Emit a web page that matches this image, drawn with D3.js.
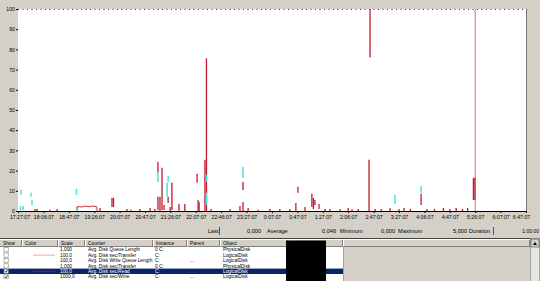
<!DOCTYPE html>
<html><head><meta charset="utf-8">
<script src="https://cdn.jsdelivr.net/npm/d3@7"></script>
<style>
html,body{margin:0;padding:0;background:#d4d0c8;overflow:hidden}
svg{display:block;font-family:"Liberation Sans",Arial,sans-serif}
</style></head><body>
<svg id="c" width="540" height="281"></svg>
<script>
// ---- data ----
const timeLabels = ["17:27:07","18:06:07","18:47:07","19:26:07","20:07:07","20:47:07","21:26:07","22:07:07","22:46:07","23:27:07","0:07:07","0:47:07","1:27:07","2:06:07","2:47:07","3:27:07","4:06:07","4:47:07","5:26:07","6:07:07","6:47:07"];
const timeTicks = [0,10,20,30,40,50,60,70,80,90,100,110,120,130,140,150,160,170,180,190,200];
const yTicks = [0,10,20,30,40,50,60,70,80,90,100];

const redT  = [6.7,7.5,12.6,15.4,32.3,37.0,37.6,42.9,44.5,48.0,52.0,53.9,55.1,55.1,55.9,56.7,57.5,59.1,60.6,59.9,63.4,65.7,70.5,70.9,71.3,73.6,74.2,76.0,83.5,87.4,88.6,88.6,90.6,94.5,99.2,103.1,107,109.4,110.2,113.0,115.7,116.3,116.9,118.5,120.9,122.8,126.8,130,131.5,134,138.2,138.6,140.6,143,146.5,150,152,154.5,158.7,161,164,167.5,170,172.5,175,177,179.3,179.9];
const redLo = [0,0,0,0,0,2,2,0,0,0,0,0,19,0.5,0,0.5,0.5,4,0.5,0,0,0,14,0,0,0,0,0,0,0,10.4,0,0,0,0,0,0,0,9,0,2,1,3,1,0,0,0,0,0,0,0,76,0,0,0,0,0,0,3,0,0,0,0,0,0,0,5.5,5.5];
const redHi = [1,1,0.6,1,1.5,6.5,6.5,1,0.6,1,1.5,1,24.4,7,7,21.4,3,7,14,2,3.5,3.5,18.4,5.5,4.5,25.4,75.6,1,1,2.5,14.4,4.5,1.5,0.6,1,1,1,4,12,2,8.5,6.5,5.5,3.5,1,1,1,1.5,0.8,1,25.4,100,1,1,1.5,1,1.5,1,8.5,1,1,1.5,1,1.5,1,1.5,16.4,16.4];

const cyanT  = [1.0,1.2,2.0,5.1,5.5,23.0,23.0,55.1,58.7,59.1,74.2,74.2,88.6,148.4,158.7];
const cyanLo = [0.5,8,0.5,7,3,8,1,14.4,7,14.4,14.4,3,16.4,3.5,9];
const cyanHi = [2.5,10.5,2.5,9,5.5,11,2,18.9,14,17.4,18,9,21.9,8,12.4];

const traceT = [23.2,23.4,25,26.5,28,29.5,31,31.2];
const traceV = [0,2.2,2.0,2.4,2.1,2.5,2.1,0];
const timeBarT = 180;

const statLabels = ["Last","Average","Minimum","Maximum","Duration"];
const statValues = ["0,000","0,046","0,000","5,000","1:00:00"];

const headers = ["Show","Color","Scale","Counter","Instance","Parent","Object","Computer",""];
const showFlags = [false,false,false,false,true,true];
const legendColors = [null,"#e9a6b0",null,null,"#9e1232",null];
const scaleLabels = ["1,000","100,0","100,0","1,000","100,0","1000,0"];
const counterNames = ["Avg. Disk Queue Length","Avg. Disk sec/Transfer","Avg. Disk Write Queue Length","Avg. Disk sec/Transfer","Avg. Disk sec/Read","Avg. Disk sec/Write"];
const instances = ["0 C:","C:","C:","0 C:","C:","C:"];
const parents = ["","","...","","","..."];
const objects = ["PhysicalDisk","LogicalDisk","LogicalDisk","PhysicalDisk","LogicalDisk","LogicalDisk"];
const selectedRow = 4;

// ---- drawing ----
const svg = d3.select("#c");
const x = d3.scaleLinear().domain([0,200]).range([18,526]);
const y = d3.scaleLinear().domain([0,100]).range([211,9]);

svg.append("rect").attr("x",0).attr("y",0).attr("width",540).attr("height",281).attr("fill","#d4d0c8");
svg.append("rect").attr("x",x(0)).attr("y",y(100)).attr("width",x(200)-x(0)).attr("height",y(0)-y(100)).attr("fill","#fff");

// top dotted line & right border
svg.append("line").attr("x1",x(0)).attr("x2",x(200)).attr("y1",y(100)+0.5).attr("y2",y(100)+0.5)
  .attr("stroke","#333").attr("stroke-dasharray","1,3.5");
svg.append("line").attr("x1",x(200)+0.5).attr("x2",x(200)+0.5).attr("y1",y(100)).attr("y2",y(0))
  .attr("stroke","#777");

// y axis
const ya = svg.append("g").attr("transform",`translate(${x(0)},0)`)
  .call(d3.axisLeft(y).tickValues(yTicks).tickSize(2).tickPadding(1));
ya.select(".domain").remove();
ya.selectAll("text").attr("font-size",5.2).attr("fill","#000").attr("font-family","Liberation Sans, Arial");
ya.selectAll("line").attr("stroke","#000");

// series ranges (red)
const idxR = d3.range(redT.length);
svg.append("g").selectAll("line").data(idxR).join("line")
  .attr("x1",i=>x(redT[i])).attr("x2",i=>x(redT[i]))
  .attr("y1",i=>y(redLo[i])).attr("y2",i=>y(redHi[i]))
  .attr("stroke","#bf1a2f").attr("stroke-width",1.3);

svg.append("path").datum(d3.range(traceT.length))
  .attr("d",d3.line().x(i=>x(traceT[i])).y(i=>y(traceV[i])))
  .attr("fill","none").attr("stroke","#bf1a2f").attr("stroke-width",0.9);

// cyan
const idxC = d3.range(cyanT.length);
svg.append("g").selectAll("line").data(idxC).join("line")
  .attr("x1",i=>x(cyanT[i])).attr("x2",i=>x(cyanT[i]))
  .attr("y1",i=>y(cyanLo[i])).attr("y2",i=>y(cyanHi[i]))
  .attr("stroke","#47e2e2").attr("stroke-width",1.5);

// time bar
svg.append("line").attr("x1",x(timeBarT)).attr("x2",x(timeBarT)).attr("y1",y(0)).attr("y2",y(100))
  .attr("stroke","#c8303f").attr("stroke-width",0.7);

// x axis
const xa = svg.append("g").attr("transform",`translate(0,${y(0)})`)
  .call(d3.axisBottom(x).tickValues(timeTicks).tickFormat((d,i)=>timeLabels[i]).tickSize(2).tickPadding(2.5));
xa.select(".domain").attr("stroke","#000").attr("stroke-width",1);
xa.selectAll("line").attr("stroke","#000");
xa.selectAll("text").attr("font-size",5.2).attr("fill","#000").attr("font-family","Liberation Sans, Arial")
  .attr("dx",(d,i)=> i===timeTicks.length-1 ? -5 : (i===0 ? 1.5 : 0));

// stats bar
const statLabelX = [208,267,340,398,469];
const statValueEnd = [261,336,395,467,539];
const sg = svg.append("g").attr("font-size",5.6).attr("fill","#000");
statLabels.forEach((l,i)=>{
  sg.append("text").attr("x",statLabelX[i]).attr("y",233).text(l);
  sg.append("text").attr("x",statValueEnd[i]).attr("y",233).attr("text-anchor","end")
    .attr("font-size", i===4 ? 5 : 5.6).text(statValues[i]);
});
svg.append("line").attr("x1",219.5).attr("x2",219.5).attr("y1",227).attr("y2",235).attr("stroke","#555");
svg.append("line").attr("x1",493.5).attr("x2",493.5).attr("y1",227).attr("y2",235).attr("stroke","#555");

// table
const colX = [0,22,58,85,153,187,220,288,343,530];
const rowTop = 247, rowH = 5.4;
svg.append("line").attr("x1",0).attr("x2",530).attr("y1",238.5).attr("y2",238.5).attr("stroke","#404040");
svg.append("line").attr("x1",0).attr("x2",530).attr("y1",239.5).attr("y2",239.5).attr("stroke","#fff");
svg.append("line").attr("x1",0).attr("x2",530).attr("y1",246.5).attr("y2",246.5).attr("stroke","#808080");
const hg = svg.append("g").attr("font-size",4.8).attr("fill","#000");
headers.forEach((h,i)=>{
  hg.append("text").attr("x",colX[i]+3).attr("y",245).text(h);
  svg.append("line").attr("x1",colX[i+1]-0.5).attr("x2",colX[i+1]-0.5).attr("y1",240).attr("y2",246.5).attr("stroke","#808080");
  svg.append("line").attr("x1",colX[i+1]+0.5).attr("x2",colX[i+1]+0.5).attr("y1",240).attr("y2",246.5).attr("stroke","#fff");
});
svg.append("rect").attr("x",0).attr("y",247).attr("width",343).attr("height",34).attr("fill","#fff");
svg.append("rect").attr("x",0).attr("y",rowTop+selectedRow*rowH).attr("width",343).attr("height",rowH).attr("fill","#0a246a");

const tg = svg.append("g").attr("font-size",4.8);
counterNames.forEach((c,i)=>{
  const top = rowTop + i*rowH, base = top + 4.3, sel = i===selectedRow;
  const col = sel ? "#fff" : "#000";
  svg.append("rect").attr("x",4).attr("y",top+0.6).attr("width",4.2).attr("height",4.2)
    .attr("fill","#fff").attr("stroke","#808080").attr("stroke-width",0.6);
  if (showFlags[i]) svg.append("path").attr("d",`M4.9,${top+2.6} L5.9,${top+3.8} L7.6,${top+1.4}`)
    .attr("fill","none").attr("stroke","#000").attr("stroke-width",0.8);
  if (legendColors[i]) svg.append("line").attr("x1",33).attr("x2",55).attr("y1",top+rowH/2).attr("y2",top+rowH/2)
    .attr("stroke",legendColors[i]).attr("stroke-width",1);
  tg.append("text").attr("x",60).attr("y",base).attr("fill",col).text(scaleLabels[i]);
  tg.append("text").attr("x",88).attr("y",base).attr("fill",col).text(c);
  tg.append("text").attr("x",155).attr("y",base).attr("fill",col).text(instances[i]);
  tg.append("text").attr("x",190).attr("y",base).attr("fill",col).text(parents[i]);
  tg.append("text").attr("x",223).attr("y",base).attr("fill",col).text(objects[i]);
});
svg.append("line").attr("x1",343.5).attr("x2",343.5).attr("y1",247).attr("y2",281).attr("stroke","#a0a0a0");

// redaction block
svg.append("rect").attr("x",286).attr("y",240.5).attr("width",40).attr("height",40.5).attr("fill","#000");

// scrollbar
svg.append("rect").attr("x",530.5).attr("y",238.5).attr("width",9).attr("height",43).attr("fill","#e8e6e0").attr("stroke","#808080").attr("stroke-width",0.6);
svg.append("rect").attr("x",531).attr("y",239).attr("width",8).attr("height",8).attr("fill","#d4d0c8").attr("stroke","#404040").attr("stroke-width",0.6);
svg.append("path").attr("d","M533,245 L535,242 L537,245 Z").attr("fill","#000");
</script>
</body></html>
